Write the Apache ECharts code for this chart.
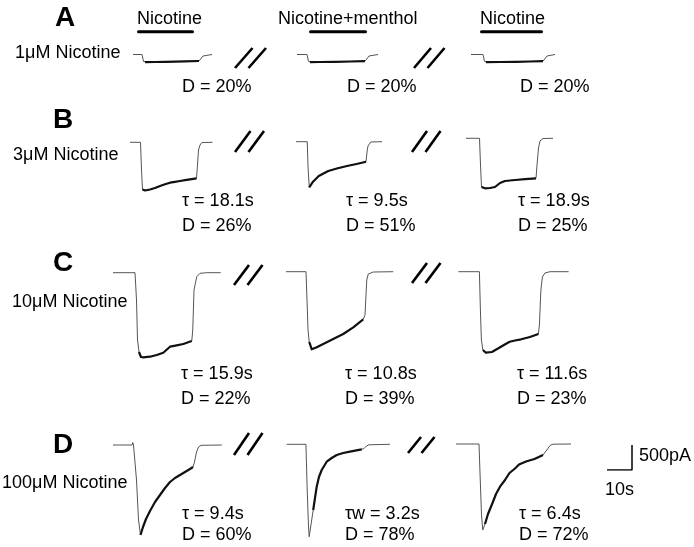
<!DOCTYPE html>
<html>
<head>
<meta charset="utf-8">
<script src="https://cdn.jsdelivr.net/npm/echarts@6/dist/echarts.min.js"></script>
<style>
  html, body { margin: 0; background: #fff; }
  #chart { width: 694px; height: 547px; }
</style>
</head>
<body>
<div id="chart"></div>
<script>
// sweeps: [time (s), current (pA)], t = 0 at left end of each sweep
const traceA1 = [[0,0],[3.6,0],[4.2,-140],[4.8,-154],[8.8,-150],[12.8,-146],[16.8,-142],[20.8,-138],[26.4,-130],[27.2,-100],[28,-30],[28.8,-6],[31.6,0]]
const traceA2 = [[0,0],[4.0,0],[4.6,-140],[5.2,-154],[9.2,-150],[15.2,-146],[21.2,-140],[27.2,-134],[28,-100],[28.8,-30],[29.6,-6],[32.4,0]]
const traceA3 = [[0,0],[4.8,0],[5.4,-140],[6,-154],[11.6,-150],[17.6,-146],[23.6,-140],[28.8,-134],[29.6,-100],[30.4,-30],[31.2,-6],[33.6,0]]

const traceB1 = [[0,0],[4.2,0],[4.6,-554],[5.0,-944],[6.0,-964],[8.0,-944],[10.0,-914],[12.0,-874],[14.0,-840],[16.0,-808],[18.0,-790],[20.0,-774],[22.0,-758],[24.0,-740],[26.6,-720],[27.0,-454],[27.4,-154],[28.0,-54],[28.8,-4],[33,0]]
const traceB2 = [[0,0],[4.5,0],[4.8,-500],[5.3,-912],[6.8,-800],[9.1,-686],[12.9,-586],[16.7,-532],[20.4,-486],[24.2,-446],[28.0,-400],[28.5,-166],[28.8,-86],[29.9,-6],[34.4,0]]
const traceB3 = [[0,0],[5.4,0],[5.8,-534],[6.2,-974],[7.6,-1000],[9.6,-994],[11.6,-974],[13.6,-894],[15.6,-854],[19.6,-834],[23.6,-818],[28,-800],[28.4,-534],[29,-194],[29.6,-54],[30.8,-4],[34.8,0]]

const traceC1 = [[0,0],[8.8,0],[9.4,-546],[9.8,-1346],[10.4,-1586],[11.2,-1686],[12.1,-1692],[14.8,-1680],[17.5,-1646],[20.1,-1600],[22.8,-1480],[25.5,-1452],[28.1,-1426],[31.5,-1366],[31.9,-1146],[32.4,-346],[33.5,-80],[34.8,-12],[37.5,0],[43.1,0]]
const traceC2 = [[0,0],[8,0],[8.4,-566],[8.8,-1166],[9.3,-1406],[10.3,-1552],[12.3,-1512],[14.9,-1446],[18.9,-1346],[22.9,-1246],[26.9,-1112],[30.9,-952],[31.6,-866],[32.3,-166],[32.9,-46],[34.9,-6],[42.9,0]]
const traceC3 = [[0,0],[8.4,0],[8.8,-766],[9.2,-1366],[9.8,-1566],[11.0,-1620],[13.4,-1606],[16,-1532],[18.2,-1466],[20.5,-1400],[22.6,-1376],[25.1,-1352],[28.6,-1306],[32,-1246],[32.4,-1066],[33,-366],[33.6,-106],[34.6,-26],[36.6,0],[44.1,0]]

const traceD1 = [[0,0],[7.6,0],[7.9,50],[8.2,0],[8.8,0],[9.4,-700],[10.2,-1500],[11.0,-1800],[12.0,-1640],[13.2,-1480],[14.8,-1320],[16.8,-1140],[18.8,-1000],[20.8,-860],[22.8,-740],[24.8,-660],[26.8,-600],[28.8,-540],[30.8,-480],[32,-440],[32.6,-340],[33.4,-140],[34.2,-40],[35.2,-6],[43.5,0]]
const traceD2 = [[0,0],[7.7,0],[8.2,-914],[8.7,-1614],[9.0,-1848],[9.7,-1614],[10.6,-1314],[12,-848],[12.9,-654],[14,-514],[16,-348],[18,-274],[20,-214],[22.6,-174],[25.3,-148],[30,-100],[30.9,-84],[31.9,-34],[32.9,-10],[41.3,0]]
const traceD3 = [[0,0],[9.2,0],[9.7,-720],[10.2,-1420],[10.7,-1720],[11.6,-1600],[12.8,-1400],[14.6,-1180],[16,-1000],[17.6,-854],[19.6,-720],[21.4,-580],[23.6,-490],[25.2,-410],[28,-350],[31.4,-300],[34.8,-220],[35.6,-200],[36.6,-100],[37.6,-30],[38.8,-4],[46,0]]

// time window (s) where the recording is noisy -> drawn heavier
const noiseSpans = [[4.8,26.4],[5.2,27.2],[6,28.8],[5.0,26.6],[5.3,28.0],[6.2,28],[10.4,31.5],[9.3,30.9],[9.8,32],[11.0,32],[10.6,30],[11.6,34.8]]

// scale bar: 10 s / 500 pA
const scaleBar = [[0,0],[10,0],[10,500]]

// texts
const rowLetters = ['A', 'B', 'C', 'D']
const concLabels = ['1\u03bcM Nicotine', '3\u03bcM Nicotine', '10\u03bcM Nicotine', '100\u03bcM Nicotine']
const headerLabels = ['Nicotine', 'Nicotine+menthol', 'Nicotine']
const tauLabels = [null, null, null,
  '\u03c4 = 18.1s', '\u03c4 = 9.5s', '\u03c4 = 18.9s',
  '\u03c4 = 15.9s', '\u03c4 = 10.8s', '\u03c4 = 11.6s',
  '\u03c4 = 9.4s', '\u03c4w = 3.2s', '\u03c4 = 6.4s']
const dLabels = ['D = 20%', 'D = 20%', 'D = 20%',
  'D = 26%', 'D = 51%', 'D = 25%',
  'D = 22%', 'D = 39%', 'D = 23%',
  'D = 60%', 'D = 78%', 'D = 72%']

const traces = [traceA1, traceA2, traceA3, traceB1, traceB2, traceB3,
  traceC1, traceC2, traceC3, traceD1, traceD2, traceD3]

// layout (px): where t=0 / I=0 of each sweep sits
const origins = [[133,54.5],[297,54.5],[471,54.5],
  [130,142.3],[296,141.7],[466,138.3],
  [113,272.7],[286,271.7],[458.4,271.7],
  [113,445],[286.7,444.3],[456,444]]
const SEC_PX = 0.4   // s per px
const PA_PX = 20     // pA per px
const T_MAX = 50, I_MIN = -2000, I_MAX = 200

const FONT = '18px "Liberation Sans", Arial, sans-serif'
const BOLD = 'bold 28px "Liberation Sans", Arial, sans-serif'

const grids = [], xAxes = [], yAxes = [], series = []
traces.forEach((tr, i) => {
  const [ox, oy] = origins[i]
  grids.push({
    left: ox, top: oy - I_MAX / PA_PX,
    width: T_MAX / SEC_PX, height: (I_MAX - I_MIN) / PA_PX
  })
  xAxes.push({ gridIndex: i, type: 'value', min: 0, max: T_MAX, show: false })
  yAxes.push({ gridIndex: i, type: 'value', min: I_MIN, max: I_MAX, show: false })
  series.push({
    type: 'line', xAxisIndex: i, yAxisIndex: i, data: tr,
    symbol: 'none', silent: true,
    lineStyle: { width: 1, color: '#555' }
  })
  const [t0, t1] = noiseSpans[i]
  series.push({
    type: 'line', xAxisIndex: i, yAxisIndex: i,
    data: tr.filter(p => p[0] >= t0 && p[0] <= t1),
    symbol: 'none', silent: true,
    lineStyle: { width: 2.2, color: '#111', join: 'round' }
  })
})

// scale bar grid, same scale as the sweeps
const sb = traces.length
grids.push({ left: 607, top: 445, width: 10 / SEC_PX, height: 500 / PA_PX })
xAxes.push({ gridIndex: sb, type: 'value', min: 0, max: 10, show: false })
yAxes.push({ gridIndex: sb, type: 'value', min: 0, max: 500, show: false })
series.push({
  type: 'line', xAxisIndex: sb, yAxisIndex: sb, data: scaleBar,
  symbol: 'none', silent: true, lineStyle: { width: 1.5, color: '#000' }
})

function txt(x, y, text, font) {
  return { type: 'text', x: x, y: y, silent: true,
    style: { text: text, font: font || FONT, fill: '#000', verticalAlign: 'middle', align: 'left' } }
}

const graphic = []
// panel letters + concentration labels
const letterPos = [[55, 18], [53, 120], [53, 263], [53, 445]]
const concPos = [[15, 53], [13, 155], [12, 302], [2, 483]]
rowLetters.forEach((l, r) => graphic.push(txt(letterPos[r][0], letterPos[r][1], l, BOLD)))
concLabels.forEach((l, r) => graphic.push(txt(concPos[r][0], concPos[r][1], l)))

// header labels with application bars
const headerX = [137, 278, 480]
const barSpan = [[137, 194], [309, 367], [480, 543]]
headerLabels.forEach((l, c) => {
  graphic.push(txt(headerX[c], 19, l))
  graphic.push({ type: 'rect', silent: true,
    shape: { x: barSpan[c][0], y: 30.3, width: barSpan[c][1] - barSpan[c][0], height: 3, r: 1.5 },
    style: { fill: '#000' } })
})

// tau / D labels
const labelX = [[182, 347, 520], [182, 346, 518], [181, 345, 517], [182, 345, 519]]
const tauY = [null, 201, 374, 514]
const dY = [87, 226, 399, 535]
dLabels.forEach((l, i) => {
  const r = Math.floor(i / 3), c = i % 3
  if (tauLabels[i]) graphic.push(txt(labelX[r][c], tauY[r], tauLabels[i]))
  graphic.push(txt(labelX[r][c], dY[r], l))
})

// "//" break marks
const breaks = [
  [[235, 68], [252.5, 48]], [[414, 68], [431, 48]],
  [[235, 152], [250.5, 131]], [[412, 152], [427, 131]],
  [[234, 285], [249, 265]], [[412, 283], [427, 263]],
  [[234, 455], [249, 433]], [[408, 453], [421, 437]]
]
breaks.forEach(([p0, p1]) => {
  const gap = 13.5
  ;[0, gap].forEach(dx => {
    graphic.push({ type: 'line', silent: true,
      shape: { x1: p0[0] + dx, y1: p0[1], x2: p1[0] + dx, y2: p1[1] },
      style: { stroke: '#000', lineWidth: 2.6 } })
  })
})

// scale bar labels
graphic.push(txt(639, 456, '500pA'))
graphic.push(txt(605, 490, '10s'))

const chart = echarts.init(document.getElementById('chart'), null, { renderer: 'canvas' })
chart.setOption({
  animation: false,
  backgroundColor: '#fff',
  grid: grids,
  xAxis: xAxes,
  yAxis: yAxes,
  series: series,
  graphic: graphic
})
</script>
</body>
</html>
